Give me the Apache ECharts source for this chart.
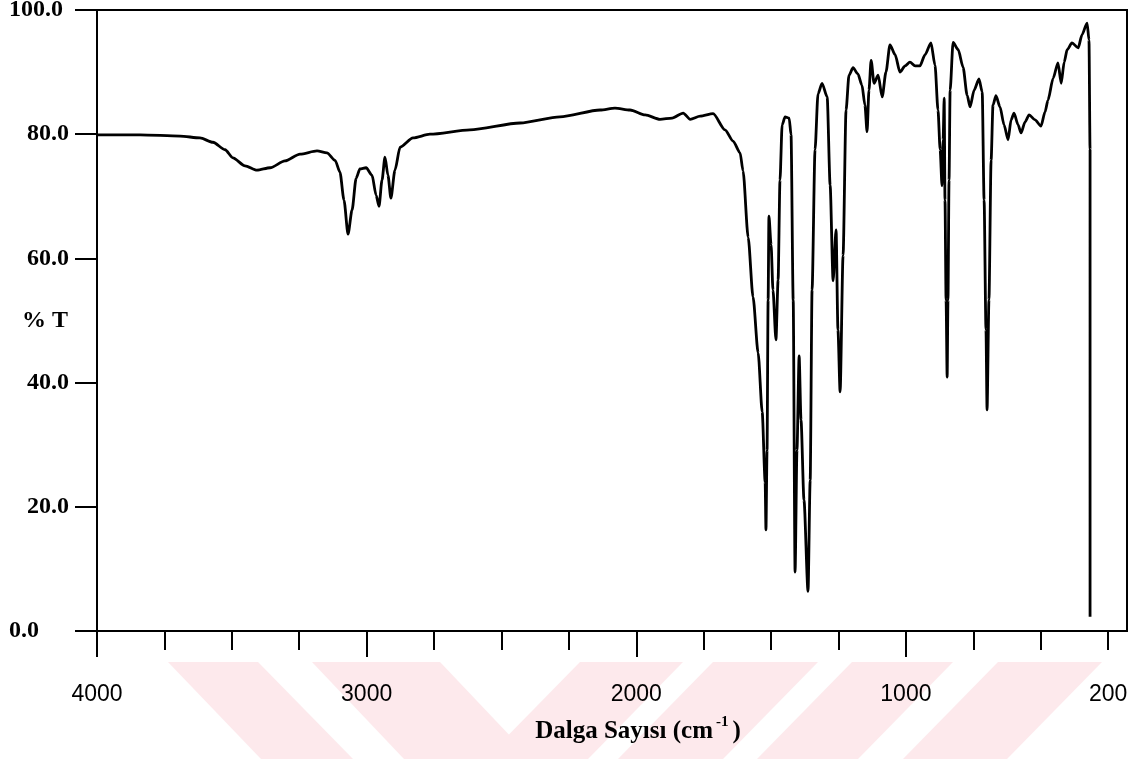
<!DOCTYPE html>
<html><head><meta charset="utf-8">
<script src="https://cdn.jsdelivr.net/npm/echarts@6/dist/echarts.min.js"></script>
<style>html,body{margin:0;padding:0;background:#fff}#c{width:1137px;height:759px}</style>
</head><body><div id="c"></div>
<script>
// IR spectrum: wavenumber (cm-1) and %T
const wavenumbers = [4000,3840,3692,3618,3570,3525,3496,3451,3407,3358,3303,3247,3184,3147,3117,3099,3084,3069,3054,3039,3025,3002,2980,2965,2954,2943,2932,2921,2910,2895,2876,2828,2765,2617,2431,2283,2134,2079,2023,1967,1912,1867,1826,1800,1763,1715,1671,1641,1615,1604,1585,1567,1548,1533,1522,1519,1515,1511,1508,1500,1493,1482,1474,1467,1459,1448,1433,1426,1418,1411,1404,1396,1389,1378,1363,1355,1348,1337,1326,1311,1292,1281,1270,1259,1252,1244,1233,1222,1211,1196,1178,1163,1152,1144,1137,1129,1118,1103,1088,1074,1059,1040,1022,1003,985,966,948,929,907,892,881,873,866,862,858,855,851,847,844,840,836,825,806,788,773,762,747,729,717,710,703,699,692,684,677,666,651,636,621,610,599,584,573,558,543,521,499,484,473,454,436,424,413,402,384,361,347,328,321,317,317];
const transmittance = [79.9,79.9,79.7,79.4,78.7,77.5,76.2,74.9,74.2,74.6,75.7,76.8,77.3,77.0,75.8,73.9,69.4,63.9,67.8,72.9,74.4,74.6,73.4,70.2,68.4,72.6,76.3,73.4,69.7,74.2,77.9,79.4,80.0,80.7,81.8,82.8,83.9,84.2,83.9,83.1,82.4,82.6,83.4,82.4,82.9,83.3,80.7,78.9,77.0,74.1,63.4,53.8,44.8,35.3,24.0,16.3,29.1,53.3,66.8,62.2,54.9,46.9,56.5,72.6,81.5,82.8,82.6,79.9,53.3,9.5,29.1,44.3,34.0,21.1,6.4,24.3,54.9,77.5,86.5,88.2,86.0,71.8,56.4,64.6,48.5,38.5,60.5,83.9,89.5,90.7,89.7,87.9,84.7,80.4,87.1,91.9,88.2,89.5,86.0,90.0,94.4,92.8,90.0,91.0,91.6,91.0,91.0,92.8,94.7,91.1,83.9,77.5,71.7,79.1,85.8,69.4,53.3,40.9,53.3,72.6,87.1,94.8,93.6,90.8,86.3,84.4,87.1,88.9,86.8,69.4,48.5,35.6,53.3,75.8,84.7,86.2,84.4,81.5,79.1,82.3,83.4,81.5,80.2,82.0,83.1,82.3,81.3,83.6,85.5,89.0,91.5,88.2,91.6,93.6,94.7,93.9,96.0,97.9,95.2,77.5,2.3];

const xMajorTicks = [4000, 3000, 2000, 1000];
const xMinorTicks = [3750, 3500, 3250, 2750, 2500, 2250, 1750, 1500, 1250, 750, 500, 250];
const xTickLabels = [4000, 3000, 2000, 1000, 200];
const yTickValues = [0, 20, 40, 60, 80, 100];
const xAxisTitle = 'Dalga Sayısı (cm';
const yAxisTitle = '% T';

const chart = echarts.init(document.getElementById('c'), null, {renderer: 'canvas', width: 1137, height: 759});
const serif = '"Liberation Serif", "Times New Roman", serif';
const sans = '"Liberation Sans", Arial, sans-serif';
const pink = '#fde9ec';

// faint diagonal watermark stripes below the axis (decoration of the scanned page)
function band(topL, topR, botL, botR) {
  return {type: 'polygon', silent: true, z: -10,
    shape: {points: [[topL, 662], [topR, 662], [botR, 759], [botL, 759]]},
    style: {fill: pink}};
}

const option = {
  backgroundColor: '#fff',
  animation: false,
  graphic: {elements: [
    band(168, 258, 261, 353),
    band(312, 440, 404, 532),
    band(580, 683, 485, 588),
    band(713, 818, 618, 723),
    band(852, 953, 757, 858),
    band(998, 1102, 903, 1007)
  ]},
  grid: {left: 97, right: 10, top: 10, bottom: 128, containLabel: false, outerBoundsMode: 'none',
    show: true, borderColor: '#000', borderWidth: 2, backgroundColor: 'transparent'},
  xAxis: [{
    type: 'value', inverse: true, min: 180, max: 4000,
    position: 'bottom', offset: 0,
    axisLine: {show: true, lineStyle: {color: '#000', width: 2}},
    axisTick: {show: true, inside: false, length: 26, lineStyle: {color: '#000', width: 2}, customValues: xMajorTicks},
    axisLabel: {show: true, customValues: xTickLabels, margin: 52, fontFamily: sans, fontSize: 23, color: '#000',
      formatter: v => v === 200 ? '{e|' + v + '}' : String(v),
      rich: {e: {fontFamily: sans, fontSize: 23, color: '#000', padding: [0, 27, 0, 0]}}},
    splitLine: {show: false},
    name: xAxisTitle + '{sup|-1}{p|)}',
    nameLocation: 'middle', nameGap: 84, nameMoveOverlap: false,
    nameTextStyle: {fontFamily: serif, fontWeight: 'bold', fontSize: 25, color: '#000', padding: [0, 0, 0, 52],
      rich: {sup: {fontFamily: serif, fontWeight: 'bold', fontSize: 15, color: '#000', padding: [0, 4, 18, 3]},
             p: {fontFamily: serif, fontWeight: 'bold', fontSize: 25, color: '#000'}}}
  }, {
    type: 'value', inverse: true, min: 180, max: 4000,
    position: 'bottom', offset: 0,
    axisLine: {show: false},
    axisTick: {show: true, inside: false, length: 19, lineStyle: {color: '#000', width: 2}, customValues: xMinorTicks},
    axisLabel: {show: false},
    splitLine: {show: false}
  }],
  yAxis: {
    type: 'value', min: 0, max: 100, interval: 20,
    axisLine: {show: true, lineStyle: {color: '#000', width: 2}},
    axisTick: {show: true, inside: false, length: 22, lineStyle: {color: '#000', width: 2}},
    axisLabel: {margin: 28, fontFamily: serif, fontWeight: 'bold', fontSize: 24, color: '#000',
      formatter: v => v === 0 ? '{z|' + v.toFixed(1) + '}' : (v === 100 ? '{h|' + v.toFixed(1) + '}' : v.toFixed(1)),
      rich: {z: {fontFamily: serif, fontWeight: 'bold', fontSize: 24, color: '#000', padding: [0, 30, 0, 0]},
             h: {fontFamily: serif, fontWeight: 'bold', fontSize: 24, color: '#000', padding: [0, 6, 0, 0]}}},
    splitLine: {show: false},
    name: yAxisTitle, nameLocation: 'middle', nameRotate: 0, nameGap: 29, nameMoveOverlap: false,
    nameTextStyle: {fontFamily: serif, fontWeight: 'bold', fontSize: 24, color: '#000', padding: [6, 0, 0, 0]}
  },
  series: [{
    type: 'line', xAxisIndex: 0, yAxisIndex: 0,
    data: wavenumbers.map((w, i) => [w, transmittance[i]]),
    showSymbol: false, smooth: 0.25, smoothMonotone: 'x',
    lineStyle: {color: '#000', width: 2.8},
    clip: true
  }]
};
chart.setOption(option);
</script></body></html>
